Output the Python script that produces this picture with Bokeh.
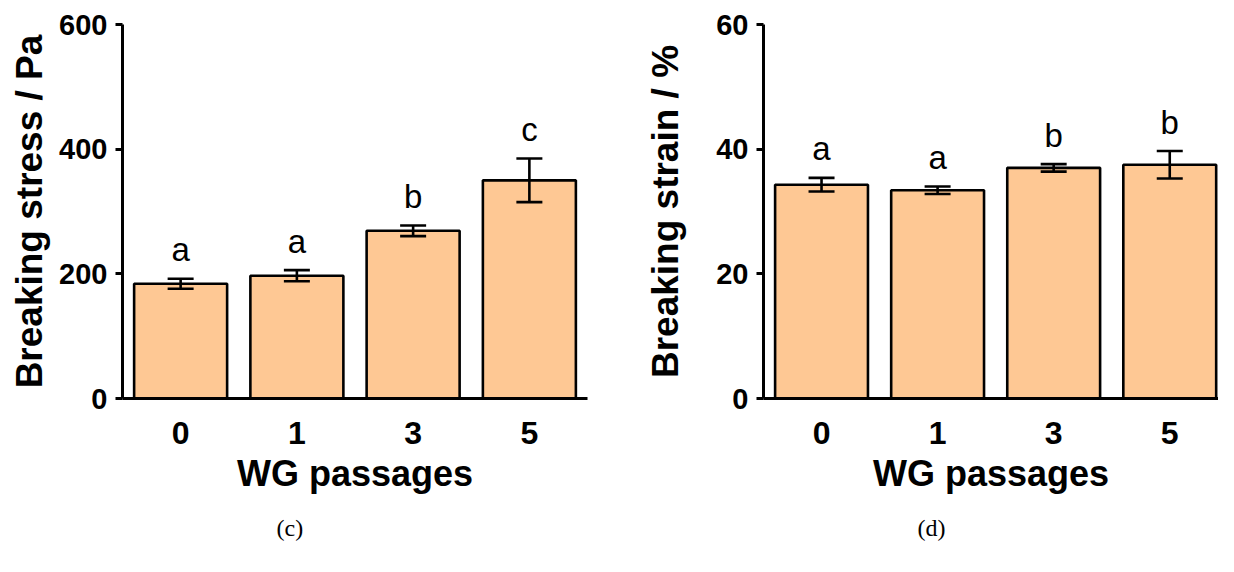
from bokeh.plotting import figure
from bokeh.models import ColumnDataSource, Range1d, FixedTicker, Whisker, TeeHead, Title
from bokeh.layouts import row
from bokeh.embed import file_html
from bokeh.resources import INLINE
from bokeh.core.properties import value

# ---- data ----
passages = ["0", "1", "3", "5"]
stress_mean = [184, 197, 269, 350]
stress_err = [8, 9, 8.5, 35]
stress_letters = ["a", "a", "b", "c"]
stress_ticks = [0, 200, 400, 600]

strain_mean = [34.3, 33.4, 37.0, 37.5]
strain_err = [1.1, 0.6, 0.6, 2.2]
strain_letters = ["a", "a", "b", "b"]
strain_ticks = [0, 20, 40, 60]

BAR = "#FEC894"
SANS = "Liberation Sans"


def make_panel(means, errs, letters, yticks, ylabel, caption,
               width, height, bl, br, bt, bb, xend, ylab_standoff):
    idx = list(range(len(passages)))
    src = ColumnDataSource(dict(
        x=idx, top=means,
        upper=[m + e for m, e in zip(means, errs)],
        lower=[m - e for m, e in zip(means, errs)],
        letter=letters))
    p = figure(width=width, height=height,
               x_range=Range1d(-0.5, xend), y_range=Range1d(0, yticks[-1]),
               output_backend="svg", toolbar_location=None,
               min_border_left=bl, min_border_right=br,
               min_border_top=bt, min_border_bottom=bb)
    p.vbar(x="x", top="top", bottom=0, width=0.8, source=src,
           fill_color=BAR, line_color="black", line_width=2.6)
    w = Whisker(base="x", upper="upper", lower="lower", source=src,
                line_color="black", line_width=2.6,
                upper_head=TeeHead(size=26, line_width=2.6, line_color="black"),
                lower_head=TeeHead(size=26, line_width=2.6, line_color="black"))
    w.level = "overlay"
    p.add_layout(w)
    p.text(x="x", y="upper", text="letter", source=src,
           text_font=value(SANS), text_font_size="33px", text_align="center",
           text_baseline="alphabetic", y_offset=-29, text_color="black")

    p.xgrid.visible = False
    p.ygrid.visible = False
    p.outline_line_color = None
    p.background_fill_color = "white"
    p.border_fill_color = "white"

    xa = p.xaxis[0]
    xa.ticker = FixedTicker(ticks=idx)
    xa.major_label_overrides = {i: s for i, s in enumerate(passages)}
    xa.major_tick_line_color = None
    xa.minor_tick_line_color = None
    xa.major_tick_out = 0
    xa.major_tick_in = 0
    xa.axis_line_width = 3
    xa.axis_line_color = "black"
    xa.major_label_text_font = SANS
    xa.major_label_text_font_style = "bold"
    xa.major_label_text_font_size = "32px"
    xa.major_label_text_color = "black"
    xa.major_label_standoff = 23
    xa.axis_label = "WG passages"
    xa.axis_label_text_font = SANS
    xa.axis_label_text_font_style = "bold"
    xa.axis_label_text_font_size = "36px"
    xa.axis_label_text_color = "black"
    xa.axis_label_standoff = 6

    ya = p.yaxis[0]
    ya.ticker = FixedTicker(ticks=yticks)
    ya.minor_tick_line_color = None
    ya.major_tick_out = 7
    ya.major_tick_in = 0
    ya.major_tick_line_width = 3
    ya.axis_line_width = 3
    ya.axis_line_color = "black"
    ya.major_label_text_font = SANS
    ya.major_label_text_font_style = "bold"
    ya.major_label_text_font_size = "29px"
    ya.major_label_text_color = "black"
    ya.major_label_standoff = 8
    ya.axis_label = ylabel
    ya.axis_label_text_font = SANS
    ya.axis_label_text_font_style = "bold"
    ya.axis_label_text_font_size = "37px"
    ya.axis_label_text_color = "black"
    ya.axis_label_standoff = ylab_standoff

    cap = Title(text=caption, align="left", offset=154, vertical_align="bottom",
                text_font="Liberation Serif", text_font_size="24px",
                text_font_style="normal", text_color="black", standoff=32)
    p.add_layout(cap, "below")
    return p


p1 = make_panel(stress_mean, stress_err, stress_letters, stress_ticks,
                "Breaking stress / Pa", "(c)",
                640, 556, 122, 53, 24, 158, 3.5, 6)
p2 = make_panel(strain_mean, strain_err, strain_letters, strain_ticks,
                "Breaking strain / %", "(d)",
                578, 556, 123, 0, 20, 156, 3.42, 27)

layout = row(p1, p2)
open("out.html", "w").write(file_html(layout, INLINE))
